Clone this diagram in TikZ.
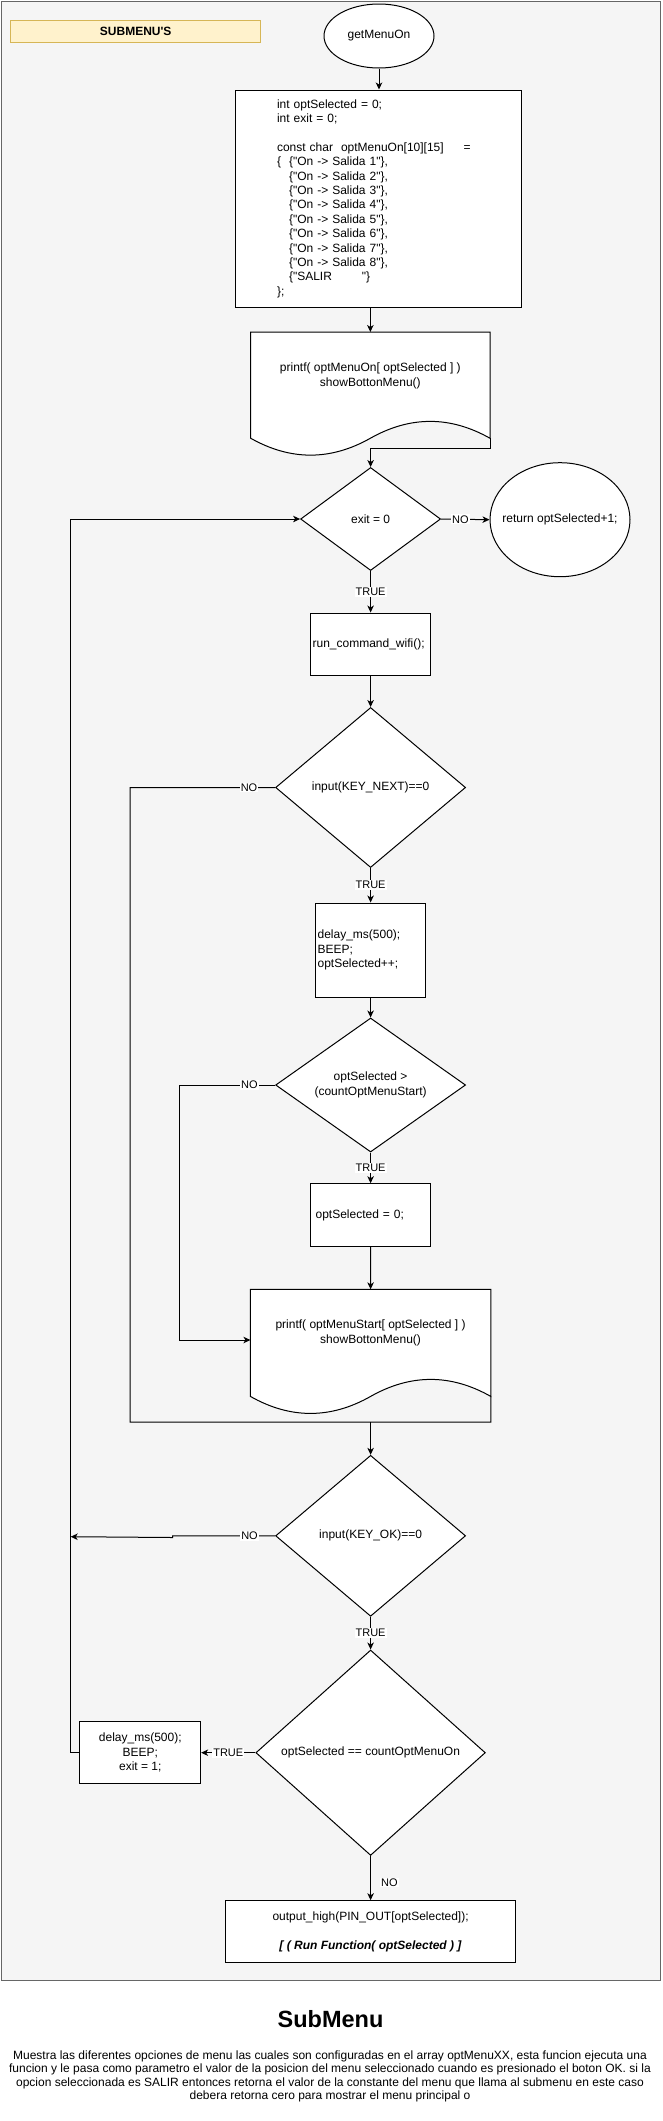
\documentclass[tikz,border=0pt]{standalone}
\usepackage{fontspec}
\newfontfamily\dio{Liberation Sans}
\usetikzlibrary{shapes.geometric,arrows.meta}

\definecolor{panel}{HTML}{F5F5F5}
\definecolor{frame}{HTML}{666666}
\definecolor{notefill}{HTML}{FFF2CC}
\definecolor{noteline}{HTML}{D6B656}

% document shape: name, left, top, width, height
\newcommand{\docshape}[5]{%
  \draw[fill=white] (#2,#3) -- coordinate (#1n) ++(#4,0) -- ++(0,{0.85*#5}) coordinate (#1r)
    .. controls +({-#4/6},{-0.18*#5}) and +({#4/6},{-0.18*#5}) .. ++({-#4/2},0)
    .. controls +({-#4/6},{0.18*#5}) and +({#4/6},{0.18*#5}) .. ++({-#4/2},0)
    -- cycle;
}

\begin{document}
\begin{tikzpicture}[x=1pt,y=-1pt,line width=1pt,
    font={\dio\fontsize{12pt}{14.4pt}\selectfont},
    >={Stealth[length=7pt,width=6.5pt,inset=2pt]},
    proc/.style={draw,fill=white,rectangle,inner sep=2pt},
    decision/.style={draw,fill=white,diamond,inner sep=0pt,align=center},
    term/.style={draw,fill=white,ellipse,inner sep=0pt},
    lbl/.style={fill=white,inner sep=1pt,font={\dio\fontsize{11pt}{13pt}\selectfont}}]
  \useasboundingbox (0,0) rectangle (662,2121);

  % CONTAINER
  \draw[fill=panel,draw=frame] (1,1) rectangle (660,1980);
  \node[draw=noteline,fill=notefill,minimum width=250pt,minimum height=22pt,
        font={\dio\fontsize{12pt}{14.4pt}\selectfont\bfseries}] (hdr) at (135.7,31.8) {SUBMENU'S};

  % NODES
  \node[term,minimum width=110pt,minimum height=64pt] (start) at (379,36) {getMenuOn};

  \node[proc,minimum height=217pt,text width=202pt,inner xsep=42pt,align=left] (init) at (378,198.5)
    {int optSelected = 0;\\
     int exit = 0;\\[14.4pt]
     const char\ \ optMenuOn[10][15]\hspace*{20pt}=\\
     \{\ \ \{"On -> Salida 1"\},\\
     \phantom{\{\ \ }\{"On -> Salida 2"\},\\
     \phantom{\{\ \ }\{"On -> Salida 3"\},\\
     \phantom{\{\ \ }\{"On -> Salida 4"\},\\
     \phantom{\{\ \ }\{"On -> Salida 5"\},\\
     \phantom{\{\ \ }\{"On -> Salida 6"\},\\
     \phantom{\{\ \ }\{"On -> Salida 7"\},\\
     \phantom{\{\ \ }\{"On -> Salida 8"\},\\
     \phantom{\{\ \ }\{"SALIR\hspace*{30pt}"\}\\
     \};};

  % d1 (printf menu)
  \docshape{d1}{250.7}{332}{239.3}{125}
  \node[align=center] (p1) at (370.35,376) {printf( optMenuOn[ optSelected ] )\\showBottonMenu()};

  \node[decision,minimum width=140pt,minimum height=103pt,shape aspect=1.36] (d0) at (370.6,519) {exit = 0};
  \node[term,minimum width=140pt,minimum height=114pt,label=center:{return optSelected+1;}] (ret) at (560,519.7) {};

  \node[proc,minimum height=62pt,text width=116pt,align=left] (wifi) at (370.6,644) {run\_command\_wifi();};

  \node[decision,minimum width=190pt,minimum height=160pt,shape aspect=1.19] (dn) at (370.6,787.5) {input(KEY\_NEXT)==0};

  \node[proc,minimum height=94pt,text width=106pt,align=left] (inc) at (370.6,950)
    {delay\_ms(500);\\BEEP;\\optSelected++;};

  \node[decision,minimum width=190pt,minimum height=134pt,shape aspect=1.42] (dv) at (370.6,1085)
    {optSelected >\\(countOptMenuStart)};

  \node[proc,minimum height=62.6pt,text width=110pt,inner xsep=5pt,align=left] (zero) at (370.6,1215) {optSelected = 0;};

  % d2 (printf start)
  \docshape{d2}{250.4}{1289.3}{240.4}{126}
  \node[align=center] (p2) at (370.6,1333) {printf( optMenuStart[ optSelected ] )\\showBottonMenu()};

  \node[decision,minimum width=190pt,minimum height=161pt,shape aspect=1.18] (dk) at (370.6,1535.8) {input(KEY\_OK)==0};

  \node[decision,minimum width=229.5pt,minimum height=205.4pt,shape aspect=1.12] (dl) at (370.6,1752.7)
    {optSelected == countOptMenuOn};

  \node[proc,minimum width=120.7pt,minimum height=62pt,align=center] (bx) at (140.3,1752.7)
    {delay\_ms(500);\\BEEP;\\exit = 1;};

  \node[proc,minimum width=290pt,minimum height=61.6pt,align=center] (out) at (370.6,1931.5)
    {output\_high(PIN\_OUT[optSelected]);\\[14.4pt]\textbf{\textit{[ ( Run Function( optSelected ) ]}}};

  % TITLE
  \node[font={\dio\fontsize{23.5pt}{28pt}\selectfont\bfseries}] (ttl) at (330.5,2019.5) {SubMenu};
  \node[align=center,font={\dio\fontsize{12pt}{13.4pt}\selectfont}] (txt) at (330,2076.5)
    {Muestra las diferentes opciones de menu las cuales son configuradas en el array optMenuXX, esta funcion ejecuta una\\
     funcion y le pasa como parametro el valor de la posicion del menu seleccionado cuando es presionado el boton OK. si la\\
     opcion seleccionada es SALIR entonces retorna el valor de la constante del menu que llama al submenu en este caso\\
     debera retorna cero para mostrar el menu principal o};

  % ARROWS
  \coordinate (lx) at (70.7,0);          % loop back column
  \coordinate (j2) at (490.8,1422);      % joint under d2
  \coordinate (d2in) at (250.4,1340);
  \coordinate (okin) at (70.7,1536.7);

  \draw[->] (start) -- (init.north -| start);
  \draw[->] (init.south -| d1n) -- (d1n);
  \draw[->] (d1r) -- ++(0,10) -| (d0.north);
  \draw[->] (d0.east) -- node[lbl,pos=0.4] {NO} (ret.west);
  \draw[->] (d0.south) -- node[lbl] {TRUE} (wifi.north);
  \draw[->] (wifi.south) -- (dn.north);
  \draw (dn.west) -- node[lbl,pos=0.18] {NO} ++(-145,0) |- (j2) -- (d2r);
  \draw[->] (dn.south) -- node[lbl] {TRUE} (inc.north);
  \draw[->] (inc.south) -- (dv.north);
  \draw[->] (dv.west) -- node[lbl,pos=0.27] {NO} ++(-95.4,0) |- (d2in);
  \draw[->] (dv.south) -- node[lbl] {TRUE} (zero.north);
  \draw[->] (zero.south) -- (d2n);
  \draw[->] (j2 -| dk) -- (dk.north);
  \draw[->] (dk.west) -- node[lbl,pos=0.25] {NO} ++(-102.4,0) -- ++(0,1.7) -- (okin);
  \draw[->] (dk.south) -- node[lbl] {TRUE} (dl.north);
  \draw[->] (dl.west) -- node[lbl] {TRUE} (bx.east);
  \draw[->] (bx.west) -- (lx |- bx.west) -- (lx |- d0.west) -- (d0.west);
  \draw[->] (dl.south) -- node[lbl,pos=0.6,right=9pt] {NO} (out.north);
\end{tikzpicture}
\end{document}
